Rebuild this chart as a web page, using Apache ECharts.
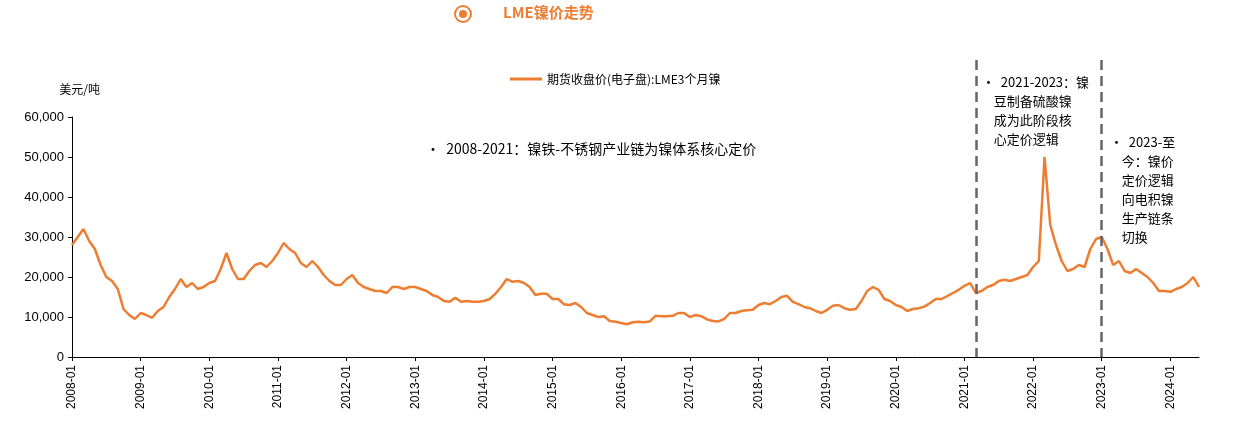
<!DOCTYPE html>
<html><head><meta charset="utf-8">
<script src="https://cdn.jsdelivr.net/npm/echarts@6/dist/echarts.min.js"></script>
<style>html,body{margin:0;padding:0;background:#fff}#c{width:1245px;height:428px}</style>
</head><body><div id="c"></div>
<script>
const years = [2008,2009,2010,2011,2012,2013,2014,2015,2016,2017,2018,2019,2020,2021,2022,2023,2024];
const values2008 = [28000,30000,32000,29000,27000,23000,20000,19000,17000,12000,10500,9500];
const values2009 = [11000,10500,9800,11500,12500,15000,17000,19500,17500,18500,17000,17500];
const values2010 = [18500,19000,22000,26000,22000,19500,19500,21500,23000,23500,22500,24000];
const values2011 = [26000,28500,27000,26000,23500,22500,24000,22500,20500,19000,18000,18000];
const values2012 = [19500,20500,18500,17500,17000,16500,16500,16000,17500,17500,17000,17500];
const values2013 = [17500,17000,16500,15500,15000,14000,13800,14800,13800,14000,13800,13800];
const values2014 = [14000,14500,15800,17500,19500,18800,19000,18500,17500,15500,15800,15800];
const values2015 = [14500,14500,13200,13000,13500,12500,11000,10500,10000,10200,9000,8800];
const values2016 = [8500,8200,8700,8800,8700,8900,10300,10200,10200,10300,11000,11000];
const values2017 = [10000,10500,10200,9400,9000,8900,9500,11000,11000,11500,11700,11800];
const values2018 = [13000,13500,13200,14000,15000,15300,13800,13200,12500,12200,11500,11000];
const values2019 = [11800,12800,13000,12200,11800,12000,14000,16500,17500,16800,14500,14000];
const values2020 = [13000,12500,11500,12000,12200,12600,13500,14500,14500,15200,16000,16800];
const values2021 = [17800,18500,16000,16500,17500,18000,19000,19300,19000,19500,20000,20500];
const values2022 = [22500,24000,50000,33000,28000,24000,21500,22000,23000,22500,27000,29500];
const values2023 = [30000,27000,23000,24000,21500,21000,22000,21000,20000,18500,16500,16500];
const values2024 = [16300,17000,17500,18500,20000,17500];
const allValues = [].concat(values2008,values2009,values2010,values2011,values2012,values2013,values2014,values2015,values2016,values2017,values2018,values2019,values2020,values2021,values2022,values2023,values2024);
const months = [];
years.forEach(y=>{for(let m=1;m<=12;m++) months.push(y+'-'+(m<10?'0':'')+m);});
const cats = months.slice(0, allValues.length);
const seriesName = '期货收盘价(电子盘):LME3个月镍';
const orange = '#ED7D31';
const ch = echarts.init(document.getElementById('c'));
const font = '"Noto Sans CJK SC", sans-serif';
ch.setOption({
  animation:false,
  textStyle:{fontFamily:font},
  grid:{left:72,right:46,top:117,bottom:71},
  legend:{top:68,left:505,itemWidth:32,itemHeight:3,icon:'rect',textStyle:{fontSize:12,color:'#000'},data:[seriesName]},
  xAxis:{type:'category',data:cats,boundaryGap:false,
    axisLine:{lineStyle:{color:'#000'}},
    axisTick:{interval:(i)=>i%12===0,length:4,lineStyle:{color:'#000'}},
    axisLabel:{interval:(i)=>i%12===0,rotate:90,color:'#000',fontSize:12,fontFamily:'Arial'}},
  yAxis:{type:'value',min:0,max:60000,interval:10000,name:'美元/吨',nameLocation:'end',nameGap:22,
    nameTextStyle:{align:'right',padding:[0,-28,0,0],fontSize:12,color:'#000'},
    axisLine:{show:true,lineStyle:{color:'#000'}},axisTick:{show:true,length:4,lineStyle:{color:'#000'}},splitLine:{show:false},
    axisLabel:{color:'#000',fontSize:13,fontFamily:'Arial',formatter:v=>v.toLocaleString('en-US')}},
  series:[{name:seriesName,type:'line',data:allValues,showSymbol:false,lineStyle:{color:orange,width:2.5},itemStyle:{color:orange},
    markLine:{symbol:'none',silent:true,label:{show:false},lineStyle:{color:'#666',type:[10,6],width:2.5},
      data:[[{xAxis:'2021-03',y:60},{xAxis:'2021-03',yAxis:0}],[{xAxis:'2023-01',y:60},{xAxis:'2023-01',yAxis:0}]]}}],
  graphic:[
    {type:'circle',shape:{cx:463,cy:14,r:8},style:{fill:'#fff',stroke:orange,lineWidth:2}},
    {type:'circle',shape:{cx:463,cy:14,r:4},style:{fill:orange}},
    {type:'text',left:503,top:5,style:{text:'LME镍价走势',fill:orange,font:'bold 15px '+font}},
    {type:'text',left:426,top:142,style:{text:'•  2008-2021：镍铁-不锈钢产业链为镍体系核心定价',fill:'#000',font:'14px '+font}},
    {type:'text',left:982,top:73,style:{text:'•  2021-2023：镍\n    豆制备硫酸镍\n    成为此阶段核\n    心定价逻辑',fill:'#000',font:'13px '+font,lineHeight:19}},
    {type:'text',left:1110,top:133,style:{text:'•  2023-至\n    今：镍价\n    定价逻辑\n    向电积镍\n    生产链条\n    切换',fill:'#000',font:'13px '+font,lineHeight:19}}
  ]
});
</script></body></html>
